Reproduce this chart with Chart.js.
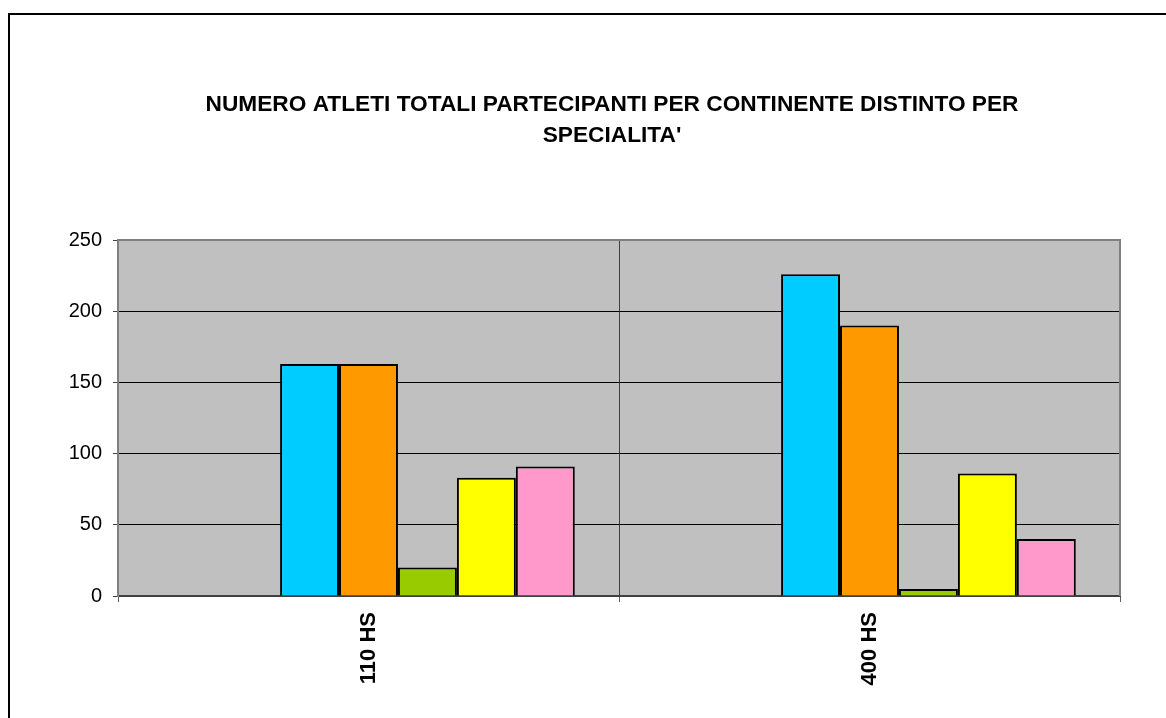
<!DOCTYPE html>
<html>
<head>
<meta charset="utf-8">
<script src="https://cdn.jsdelivr.net/npm/chart.js@4/dist/chart.umd.min.js"></script>
<style>
  html, body { margin: 0; padding: 0; background: #fff; }
  #wrap { width: 1166px; height: 718px; }
</style>
</head>
<body>
<div id="wrap"><canvas id="c" width="1166" height="718"></canvas></div>
<script>
const categories = ["110 HS", "400 HS"];
const serie1 = [null, null];
const serie2 = [null, null];
const serie3 = [163, 226];
const serie4 = [163, 190];
const serie5 = [20, 5];
const serie6 = [83, 86];
const serie7 = [91, 40];
const yTicks = [0, 50, 100, 150, 200, 250];
const titleLines = ["NUMERO ATLETI TOTALI PARTECIPANTI PER CONTINENTE DISTINTO PER", "SPECIALITA'"];

const FONT = "'Liberation Sans', Arial, sans-serif";

const bgPlugin = {
  id: 'bgPlugin',
  beforeDraw(chart) {
    const ctx = chart.ctx, a = chart.chartArea;
    ctx.save();
    ctx.fillStyle = '#ffffff';
    ctx.fillRect(0, 0, chart.width, chart.height);
    // outer frame
    ctx.strokeStyle = '#000000';
    ctx.lineWidth = 2;
    ctx.strokeRect(9, 14, 3000, 3000);
    // plot background
    ctx.fillStyle = '#C0C0C0';
    ctx.fillRect(a.left, a.top, a.right - a.left, a.bottom - a.top);
    // title
    ctx.fillStyle = '#000000';
    ctx.font = "bold 22.7px " + FONT;
    ctx.textAlign = 'center';
    ctx.textBaseline = 'middle';
    ctx.fillText(titleLines[0], 612, 104.5);
    ctx.fillText(titleLines[1], 612, 135.5);
    ctx.restore();
  },
  afterDatasetsDraw(chart) {
    const ctx = chart.ctx, a = chart.chartArea;
    ctx.save();
    ctx.strokeStyle = '#808080';
    ctx.lineWidth = 2;
    ctx.beginPath();
    ctx.moveTo(a.left, a.top);
    ctx.lineTo(a.right, a.top);
    ctx.lineTo(a.right, a.bottom);
    ctx.stroke();
    ctx.restore();
  }
};

const colors = ['#00CCFF', '#00CCFF', '#00CCFF', '#FF9900', '#99CC00', '#FFFF00', '#FF99CC'];
const seriesData = [serie1, serie2, serie3, serie4, serie5, serie6, serie7];

new Chart(document.getElementById('c'), {
  type: 'bar',
  data: {
    labels: categories,
    datasets: seriesData.map((d, i) => ({
      label: 'Serie ' + (i + 1),
      data: d,
      backgroundColor: colors[i],
      borderColor: '#000000',
      borderWidth: 2,
      categoryPercentage: 7 / 8.5,
      barPercentage: 1.0
    }))
  },
  options: {
    responsive: false,
    animation: false,
    devicePixelRatio: 1,
    layout: { padding: { left: 0, top: 240, right: 46, bottom: 0 } },
    plugins: {
      legend: { display: false },
      title: { display: false },
      tooltip: { enabled: false }
    },
    scales: {
      x: {
        type: 'category',
        offset: true,
        grid: {
          offset: true,
          display: true,
          drawOnChartArea: true,
          color: '#404040',
          lineWidth: 1,
          tickLength: 6,
          tickColor: '#606060'
        },
        border: { display: true, color: '#404040', width: 2 },
        ticks: {
          maxRotation: 90,
          minRotation: 90,
          padding: 10,
          color: '#000000',
          font: { family: FONT, size: 22, weight: 'bold' }
        },
        afterFit(scale) { scale.height = 122; }
      },
      y: {
        min: 0,
        max: 250,
        afterBuildTicks(scale) { scale.ticks = yTicks.map(v => ({ value: v })); },
        grid: {
          color: (c) => (c.tick && (c.tick.value === 250 || c.tick.value === 0)) ? '#808080' : '#000000',
          lineWidth: 1,
          tickLength: 5,
          tickColor: '#404040'
        },
        border: { display: true, color: '#808080', width: 2 },
        ticks: {
          padding: 11,
          color: '#000000',
          font: { family: FONT, size: 20 }
        },
        afterFit(scale) { scale.width = 118; }
      }
    }
  },
  plugins: [bgPlugin]
});
</script>
</body>
</html>
